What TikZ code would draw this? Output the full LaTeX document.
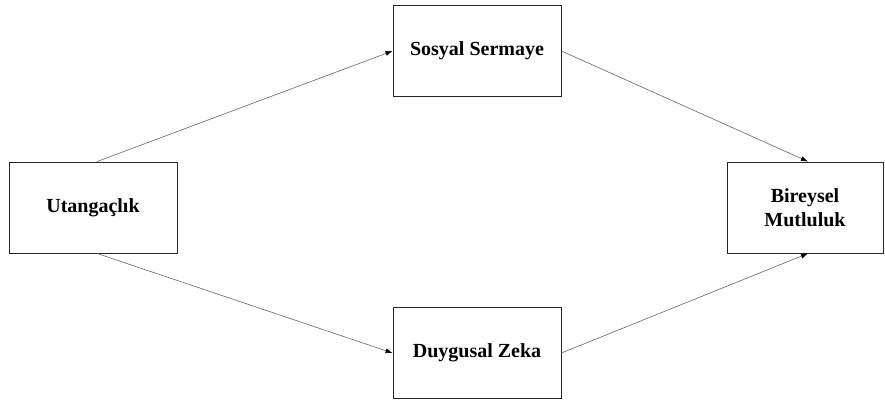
\documentclass[tikz,border=0pt]{standalone}
\usepackage{fontspec}
\setmainfont{Liberation Serif}
\usetikzlibrary{arrows.meta}
\begin{document}
\begin{tikzpicture}[x=1pt,y=1pt,
  box/.style={draw=black!85,line width=0.9pt,rectangle,inner sep=0pt,
    minimum width=168pt,minimum height=91pt,align=center,
    font=\bfseries\fontsize{20}{24}\selectfont},
  conn/.style={draw=black!60,line width=0.6pt,-{Latex[length=7pt,width=5pt,black]}}]
\useasboundingbox (0,0) rectangle (885,403);
\node[box] (u) at (93,195.5) {Utangaçlık};
\node[box] (s) at (477,352) {Sosyal Sermaye};
\node[box] (d) at (477,50) {Duygusal Zeka};
\node[box,minimum width=156pt] (b) at (805,195.5) {Bireysel\\Mutluluk};
\draw[conn] ([xshift=4pt]u.north) -- (s.west);
\draw[conn] ([xshift=4pt]u.south) -- (d.west);
\draw[conn] (s.east) -- ([xshift=3pt]b.north);
\draw[conn] (d.east) -- ([xshift=3pt]b.south);
\end{tikzpicture}
\end{document}
